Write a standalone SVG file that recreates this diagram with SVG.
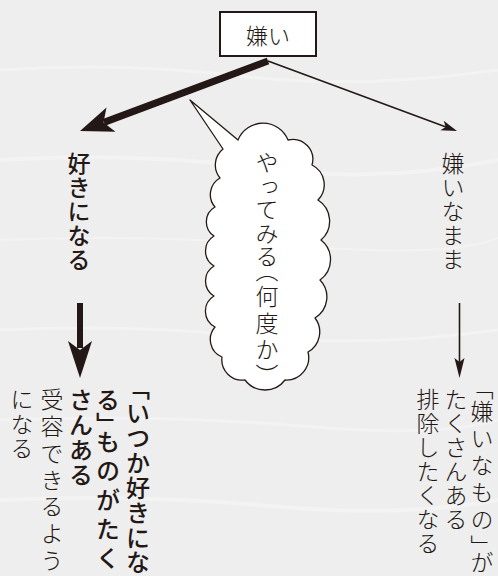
<svg xmlns="http://www.w3.org/2000/svg" width="498" height="576" viewBox="0 0 498 576">
<style>
  .ink { fill: #231815; }
  .t { font-family: "Noto Sans CJK JP", "Noto Sans CJK SC", sans-serif; fill: #231815; }
  .v { writing-mode: vertical-rl; font-family: "Noto Sans CJK JP", "Noto Sans CJK SC", sans-serif; fill: #231815; }
  .thin { font-weight: 300; }
  .bold { font-weight: 500; }
  .streak { fill: none; stroke: #ffffff; stroke-opacity: 0.3; stroke-linecap: round; }
</style>
<rect x="0" y="0" width="498" height="576" fill="#eeeeee"/>
<g id="background-streaks">
  <path class="streak" stroke-width="3" d="M0 70 Q120 62 240 76 T498 70"/>
  <path class="streak" stroke-width="4" d="M0 160 Q140 152 260 168 T498 160"/>
  <path class="streak" stroke-width="2" d="M0 240 Q150 234 300 246 T498 238"/>
  <path class="streak" stroke-width="3" d="M0 330 Q130 324 250 336 T498 330"/>
  <path class="streak" stroke-width="3" d="M0 420 Q160 414 300 426 T498 420"/>
  <path class="streak" stroke-width="4" d="M0 500 Q140 494 270 506 T498 500"/>
</g>

<g id="connectors">
  <line x1="268" y1="61" x2="104" y2="122.4" stroke="#231815" stroke-width="7"/>
  <polygon class="ink" points="80,131 106.5,107.4 103.5,122.4 115.5,131.8"/>
  <line x1="268" y1="61" x2="446" y2="127" stroke="#231815" stroke-width="1.6"/>
  <polygon class="ink" points="457,131 443.7,120.8 445.7,126.9 440.3,130.2"/>
  <rect class="ink" x="77" y="303" width="6" height="45"/>
  <polygon class="ink" points="68,341 80,350 92,341 80,378"/>
  <line x1="459.5" y1="303" x2="459.5" y2="362" stroke="#231815" stroke-width="1.6"/>
  <polygon class="ink" points="454.5,358 459.5,362 464.5,358 459.5,378"/>
</g>

<g id="node-kirai">
  <rect x="220" y="12" width="96" height="44" fill="#ffffff" stroke="#231815" stroke-width="2"/>
  <text class="t thin" x="268" y="44" font-size="22" text-anchor="middle">嫌い</text>
</g>

<g id="node-bubble">
  <path fill="#ffffff" stroke="#231815" stroke-width="1.3" stroke-linejoin="round" d="M238 140 A27 27 0 0 1 288 140 A20 20 0 0 1 312 165 A22 22 0 0 1 318 200 A25 25 0 0 1 321 240 A25 25 0 0 1 320 280 A24.5 24.5 0 0 1 315 318 A23 23 0 0 1 308 352 A22.5 22.5 0 0 1 285 380 A25 25 0 0 1 245 380 A20.5 20.5 0 0 1 222 357 A19 19 0 0 1 215 327 A17.8 17.8 0 0 1 214 296 A17.5 17.5 0 0 1 214 266 A17.5 17.5 0 0 1 214 236 A17 17 0 0 1 215 207 A19 19 0 0 1 220 178 A20.5 20.5 0 0 1 223 149 L190 100 Z"/>
  <text class="v thin" x="267" y="151" font-size="23" letter-spacing="0.5">やってみる</text>
  <text class="v thin" x="267" y="259" font-size="23" letter-spacing="3.2">（何度か）</text>
</g>

<g id="node-sukininaru">
  <text class="v bold" x="79" y="152" font-size="23" letter-spacing="1">好きになる</text>
</g>

<g id="node-kirainamama">
  <text class="v thin" x="453" y="152" font-size="23" letter-spacing="1">嫌いなまま</text>
</g>

<g id="node-note-left">
  <text class="v bold" x="138" y="376" font-size="24" letter-spacing="0.9">「いつか好きにな</text>
  <text class="v bold" x="108" y="388" font-size="24">る」</text>
  <text class="v bold" x="108" y="430" font-size="24" letter-spacing="5">ものがたく</text>
  <text class="v bold" x="81" y="388" font-size="24" letter-spacing="1">さんある</text>
  <text class="v thin" x="52" y="388" font-size="23" letter-spacing="3.8">受容できるよう</text>
  <text class="v thin" x="22" y="388" font-size="23" letter-spacing="1.5">になる</text>
</g>

<g id="node-note-right">
  <text class="v thin" x="482" y="377" font-size="23">「</text>
  <text class="v thin" x="482" y="400" font-size="23" letter-spacing="4">嫌いなもの」</text>
  <text class="v thin" x="482" y="551" font-size="23">が</text>
  <text class="v thin" x="456" y="388" font-size="23" letter-spacing="1">たくさんある</text>
  <text class="v thin" x="428" y="388" font-size="23" letter-spacing="1">排除したくなる</text>
</g>
</svg>
